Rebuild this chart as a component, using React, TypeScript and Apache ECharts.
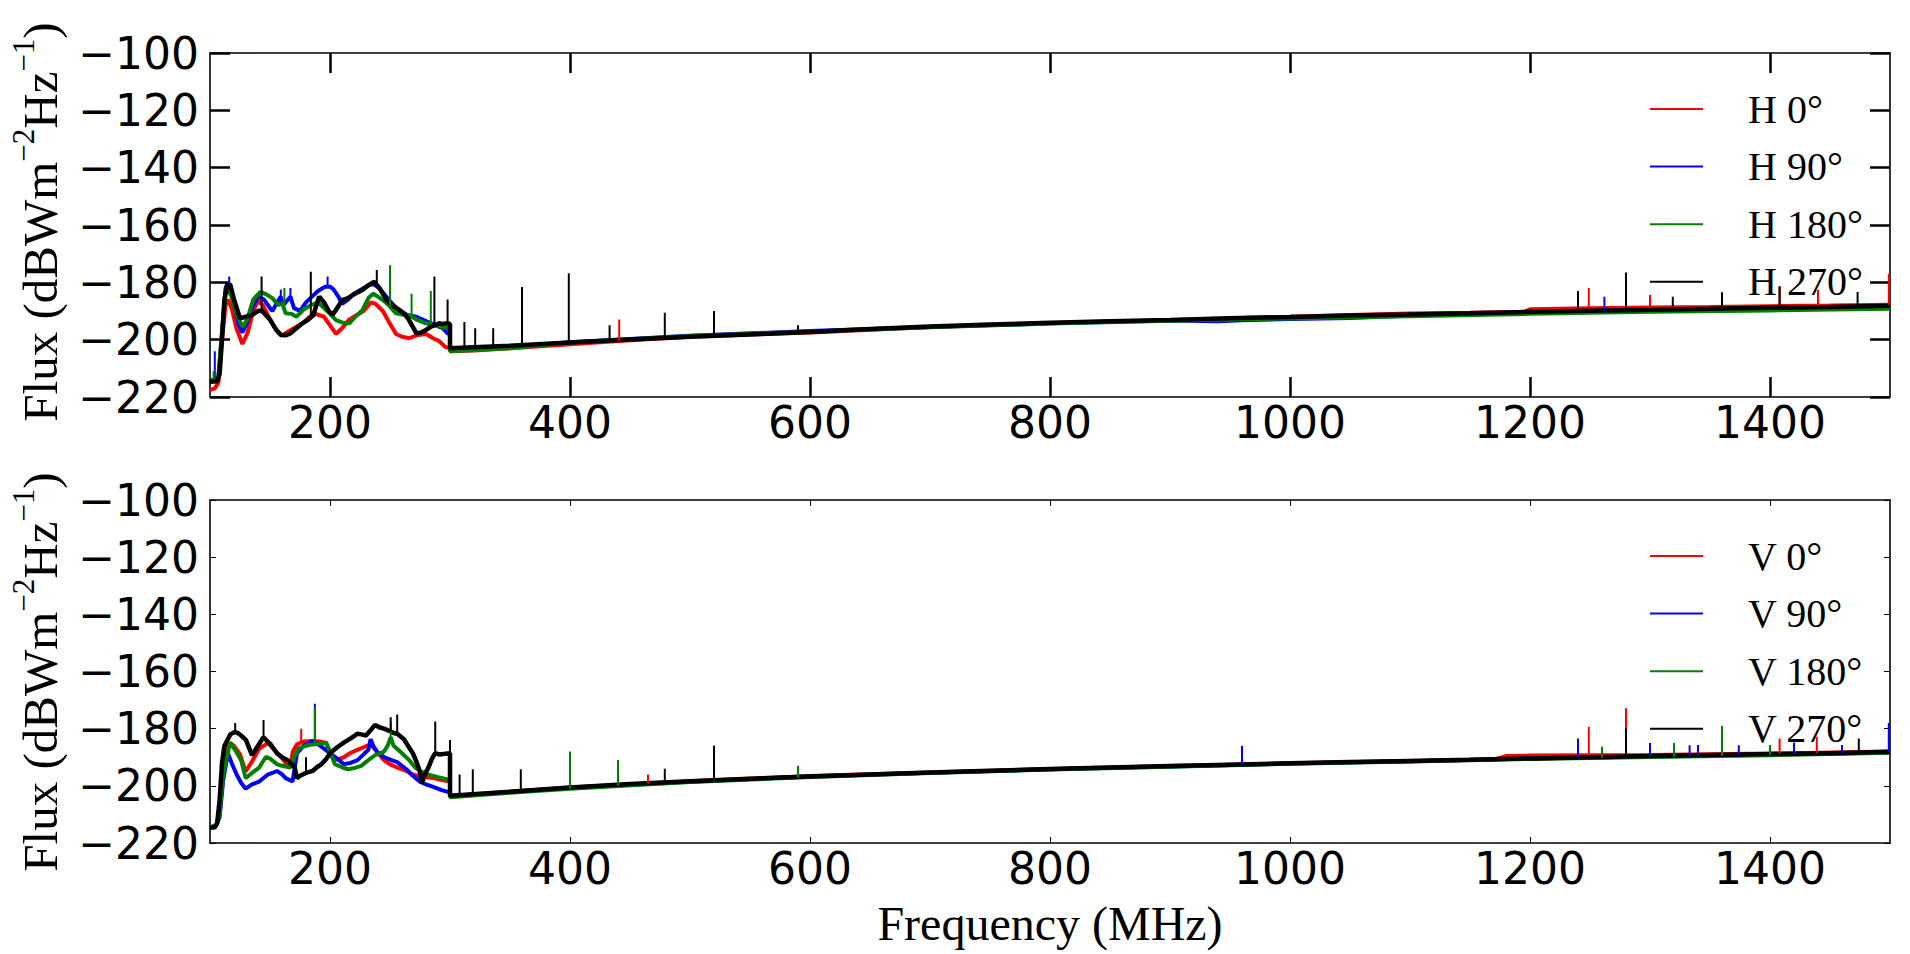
import React, { useEffect, useRef } from "react";
import * as echarts from "echarts";

// ---------- axes / ticks ----------
const X_TICKS = [200, 400, 600, 800, 1000, 1200, 1400];
const X_MIN = 100;
const X_MAX = 1500;
const Y_MIN = -220;
const Y_MAX = -100;
const Y_STEP = 20;

// ---------- legend names ----------
const H_NAMES = ["H 0°", "H 90°", "H 180°", "H 270°"];
const V_NAMES = ["V 0°", "V 90°", "V 180°", "V 270°"];
const COLORS = ["#ff0000", "#0000ff", "#008000", "#000000"];

// ---------- H polarisation, base spectra [MHz, dBW m^-2 Hz^-1] ----------
const H0: number[][] = [
  [100, -217.5], [104, -217], [107, -215], [110, -200], [113, -188], [115, -186], [118, -189], [122, -196],
  [127, -201.5], [131, -198], [136, -190], [140, -186.5], [144, -188], [150, -193], [156, -197], [160, -198.5],
  [166, -197], [172, -195.5], [178, -194], [183, -192], [188, -191], [195, -192], [200, -195], [205, -198],
  [210, -196], [216, -193], [222, -191.5], [228, -190], [234, -187], [238, -187.5], [244, -190], [250, -194.5],
  [255, -198], [260, -199], [266, -199.5], [272, -198.5], [280, -198], [286, -199.5], [291, -200.5], [296, -202.5],
  [300, -203], [300, -204], [320, -203.8], [350, -203], [400, -201.6], [450, -200.2], [500, -199], [550, -198.2],
  [600, -197.5], [650, -196.5], [700, -195.6], [750, -194.9], [800, -194.3], [850, -193.7], [900, -193.2],
  [950, -192.5], [1000, -192], [1050, -191.4], [1100, -190.9], [1150, -190.6], [1195, -190.3], [1200, -189.4],
  [1250, -189], [1300, -188.8], [1350, -188.6], [1400, -188.3], [1450, -188.1], [1500, -187.8],
];
const H90: number[][] = [
  [100, -215], [103, -214], [105, -214], [107, -213], [110, -198], [113, -182], [115, -180.5], [117, -181],
  [120, -188], [124, -195], [127, -197.5], [131, -194], [136, -188], [140, -185], [145, -186], [150, -189],
  [152, -190], [156, -187], [159, -185], [161, -188], [165, -186], [167, -185], [170, -189], [175, -190],
  [180, -187], [185, -185], [190, -183], [196, -181.5], [200, -181.5], [203, -182.5], [207, -185], [210, -187.5],
  [215, -186], [220, -184], [226, -182.5], [232, -181], [236, -180.5], [241, -182], [247, -185], [253, -188],
  [258, -190], [265, -191.5], [272, -192], [280, -193.5], [288, -195], [294, -196], [298, -197.8], [300, -198],
  [300, -203.5], [350, -202.6], [400, -200.9], [500, -198.6], [600, -197], [700, -195.6], [800, -194.3],
  [900, -193.3], [940, -193.6], [960, -193.2], [1000, -192.8], [1050, -192.4], [1100, -191.6], [1150, -191.1],
  [1200, -190.6], [1250, -190.1], [1300, -189.9], [1400, -189.4], [1500, -188.9],
];
const H180: number[][] = [
  [100, -214], [102, -214], [104, -214], [107, -213], [110, -197], [113, -184], [115, -182.5], [118, -185],
  [122, -191], [127, -195.5], [131, -193], [136, -186], [142, -183.3], [146, -184], [152, -185.5], [157, -188],
  [160, -187], [163, -190.8], [168, -191], [172, -192], [178, -189.5], [184, -188], [190, -187], [195, -189],
  [200, -191], [205, -193.2], [210, -194], [216, -194.3], [220, -192.5], [227, -189.7], [232, -185.5],
  [236, -184], [240, -185], [244, -186.2], [249, -188], [251, -189], [255, -190.8], [260, -191.2], [266, -191.5],
  [272, -193], [280, -194.3], [288, -195], [295, -195.8], [300, -196], [300, -204], [350, -203], [400, -201],
  [500, -198.7], [600, -197.2], [700, -195.7], [800, -194.4], [900, -193.4], [1000, -192.6], [1100, -191.8],
  [1200, -191], [1300, -190.3], [1400, -189.8], [1500, -189.2],
];
const H270: number[][] = [
  [100, -214.7], [106, -214.5], [108, -212], [110, -200], [112, -186], [114.5, -180.4], [117, -181], [120, -186],
  [125, -192.6], [130, -192], [135, -191.4], [140, -190], [143, -189.8], [150, -193], [155, -196.5],
  [159, -198.4], [163, -198.5], [167, -197.8], [172, -196], [177, -194.3], [182, -193], [186, -191.5],
  [191, -185], [195, -187], [199, -190], [202, -191.4], [206, -189], [210, -186.2], [215, -185.5], [219, -184.4],
  [223, -183.5], [227, -182.7], [232, -181], [237, -179.8], [242, -182.5], [247, -186.2], [252, -188],
  [258, -189.7], [262, -191], [265, -192.6], [269, -195.5], [272, -197.8], [276, -197.5], [280, -196.6],
  [284, -195.5], [291, -194.3], [294, -194.5], [298, -194.3], [300, -194.5], [300, -203], [350, -202.1],
  [400, -201], [450, -199.9], [500, -199], [560, -198], [600, -197.3], [650, -196.3], [700, -195.4],
  [750, -194.7], [800, -194.1], [850, -193.6], [900, -193.1], [950, -192.5], [1000, -192.1], [1050, -191.6],
  [1100, -191.2], [1150, -190.8], [1200, -190.3], [1250, -189.9], [1300, -189.6], [1350, -189.2],
  [1400, -188.9], [1450, -188.6], [1500, -188.2],
];

// ---------- H narrow-band spikes [MHz, base, peak] ----------
const H0_SPIKES: number[][] = [
  [441, -200.4, -193], [1249, -189, -182], [1300, -188.8, -184.4], [1408, -188.3, -181.3],
  [1440, -188.2, -182.7], [1499, -187.8, -177],
];
const H90_SPIKES: number[][] = [
  [104, -214, -204], [116, -180.5, -178], [159, -187, -182.5], [167, -186, -182], [198, -181.5, -178],
  [1262, -190, -185],
];
const H180_SPIKES: number[][] = [
  [103, -214, -211], [162, -188, -182], [250, -188.5, -174], [268, -192, -184], [284, -194.5, -183],
];
const H270_SPIKES: number[][] = [
  [143, -189.8, -178], [184, -192, -176.3], [239, -180.5, -175.7], [287, -195, -178], [298, -194.3, -186],
  [312, -202.8, -193.8], [321, -202.6, -196], [336, -202.3, -196], [360, -201.9, -181.6], [399, -201, -176.8],
  [433, -200.3, -195], [479, -199.4, -190.6], [520, -198.7, -190], [590, -197.5, -195], [1240, -190, -183],
  [1280, -189.7, -176.6], [1319, -189.4, -185], [1360, -189.2, -183.5], [1408, -188.9, -181.5],
  [1473, -188.5, -183.4],
];

// ---------- V polarisation, base spectra ----------
const V0: number[][] = [
  [100, -214.5], [105, -214], [108, -210], [111, -195], [114, -187], [116.7, -185], [120, -186], [125, -189],
  [129.7, -195], [135, -191.5], [141, -187], [146.5, -185.5], [150, -185], [155, -188], [159.5, -190],
  [163, -192], [166.9, -193.6], [169, -188], [172.5, -185.5], [178, -184.5], [185.5, -184.3], [191, -184.5],
  [196.7, -185], [200, -188], [204, -191], [208, -190.5], [211.5, -190], [217, -188.5], [222.7, -187.4],
  [228, -186.5], [233.8, -185.5], [239, -188], [245, -191], [250, -192.5], [256, -193.6], [263.6, -194.8],
  [269, -196], [274.7, -196.7], [280, -197], [286, -197.3], [293, -198], [300, -198.5], [300, -203.6],
  [350, -202.1], [400, -200.6], [500, -198.4], [600, -196.6], [700, -195.3], [800, -194.1], [900, -193.1],
  [1000, -192.1], [1100, -191.3], [1170, -190.8], [1180, -189.6], [1200, -189.4], [1300, -189.2],
  [1400, -188.7], [1500, -188],
];
const V90: number[][] = [
  [100, -214.5], [105, -214], [108, -211], [111, -198], [114.9, -188.6], [118, -192], [122.3, -196.1],
  [126, -199], [129.7, -201], [135, -199.5], [141, -198.5], [148, -196.1], [152, -195.5], [155.8, -194.8],
  [160, -196], [163, -197.3], [168.8, -198.5], [172.5, -188.6], [178, -186], [185.5, -184.3], [192, -186],
  [200, -188.6], [206, -190.5], [211.5, -192.4], [217, -192], [222.7, -191.1], [228, -189], [232, -187.4],
  [233.8, -183.7], [236, -186], [240, -188.5], [245, -189.9], [250, -190.8], [256, -191.7], [263.6, -194.2],
  [269, -196.5], [274.7, -198.5], [280, -199.5], [286, -200.4], [293, -201.5], [300, -202.3], [300, -203.6],
  [400, -200.7], [500, -198.6], [600, -196.7], [700, -195.4], [800, -194.2], [900, -193.2], [1000, -192.2],
  [1100, -191.4], [1200, -190.4], [1300, -189.7], [1400, -189.1], [1500, -188.3],
];
const V180: number[][] = [
  [100, -214.5], [105, -214], [108, -210], [111, -196], [116.7, -184.9], [121, -187.5], [126, -191.1],
  [129.7, -197.3], [135, -195.5], [141, -193.6], [146.5, -189.9], [150, -190.5], [155.8, -192.4], [160, -193],
  [166.9, -193.6], [170, -190], [174.3, -186.8], [180, -186], [185.5, -185.5], [191, -185.3], [196.7, -184.9],
  [200, -188], [204, -192.4], [210, -193.5], [215, -194.2], [220, -193.8], [226, -193], [232, -191],
  [237.5, -189.3], [245, -188], [248, -186], [250.6, -183], [253, -186], [260, -188.6], [266, -191],
  [271, -193.6], [276, -195], [282, -196.1], [290, -197], [300, -197.9], [300, -204], [350, -202.4],
  [400, -201], [500, -198.7], [600, -196.9], [700, -195.5], [800, -194.3], [900, -193.3], [1000, -192.3],
  [1100, -191.5], [1200, -190.6], [1300, -189.9], [1400, -189.3], [1500, -188.4],
];
const V270: number[][] = [
  [100, -214.7], [104, -214.5], [106, -213], [108, -205], [110, -192], [112, -186], [114.9, -183.7],
  [117, -182], [120.4, -181.2], [123, -181.5], [126, -182.4], [130, -184], [135, -189.3], [140, -186],
  [144.6, -183], [148, -184.5], [152, -186.5], [155.8, -188.6], [160, -190], [165, -191.1], [168, -192.5],
  [170.6, -193.6], [172.4, -197.3], [175, -196.5], [180, -195.5], [185.5, -194.8], [189, -193.5],
  [193, -192.4], [197, -190.5], [200, -188.6], [206, -186.5], [211.5, -184.9], [217, -183.5], [222.7, -181.8],
  [226, -182], [230, -182.4], [234, -180.5], [237.5, -178.7], [241, -179.5], [245, -180], [250.6, -181],
  [253, -181.5], [256, -181.8], [261.7, -183.7], [265, -186], [269, -188.6], [272, -191.5], [274.7, -194.8],
  [276.6, -199.2], [279, -196], [282, -193.6], [285, -190.5], [287.7, -188.6], [291, -189], [296, -188.8],
  [300, -188.6], [300, -203.5], [350, -202.1], [400, -200.6], [450, -199.4], [500, -198.4], [550, -197.5],
  [600, -196.7], [650, -196], [700, -195.3], [750, -194.7], [800, -194.1], [850, -193.6], [900, -193.1],
  [950, -192.6], [1000, -192.1], [1050, -191.7], [1100, -191.3], [1150, -190.9], [1200, -190.4],
  [1250, -190], [1300, -189.6], [1350, -189.2], [1400, -188.9], [1450, -188.6], [1500, -188.1],
];

// ---------- V narrow-band spikes [MHz, base, peak] ----------
const V0_SPIKES: number[][] = [
  [176, -184.5, -180], [465, -199.1, -196], [1249, -189.3, -179.3], [1280, -189.2, -172.9],
  [1408, -188.7, -183.4], [1439, -188.5, -182.8],
];
const V90_SPIKES: number[][] = [
  [187.4, -184.5, -171.3], [960, -192.6, -186], [1240, -190.1, -183.4], [1300, -189.7, -185],
  [1333, -189.5, -185.8], [1340, -189.4, -185.7], [1374, -189.2, -185.8], [1420, -188.9, -184.8],
  [1460, -188.6, -185.7], [1499, -188.3, -178],
];
const V180_SPIKES: number[][] = [
  [187.4, -185.5, -172.5], [250.6, -183, -178], [400, -201, -188], [440, -200.1, -191], [520, -198.5, -186],
  [590, -197.2, -193], [1260, -190.2, -186.3], [1320, -189.8, -185], [1360, -189.6, -179],
  [1400, -189.3, -185.7],
];
const V270_SPIKES: number[][] = [
  [121, -181, -178], [144.6, -183, -177], [180, -195.5, -190], [250.6, -181, -176], [256, -181.8, -175],
  [287.7, -188.6, -177.5], [300, -188.6, -184], [308, -203.3, -196], [319, -203, -194.2],
  [359, -201.9, -194.2], [479, -198.9, -194], [520, -198.1, -186], [1280, -189.8, -179.9],
  [1474, -188.4, -183.4],
];

const H_DATA = [H0, H90, H180, H270];
const V_DATA = [V0, V90, V180, V270];
const H_SPIKES = [H0_SPIKES, H90_SPIKES, H180_SPIKES, H270_SPIKES];
const V_SPIKES = [V0_SPIKES, V90_SPIKES, V180_SPIKES, V270_SPIKES];

const TICK_FONT = "'DejaVu Sans', sans-serif";
const SERIF = "'Liberation Serif', 'Times New Roman', serif";

const minus = (v: number) => String(v).replace("-", "\u2212");

function spikeSegments(sp: number[][]) {
  const out: (number | null)[][] = [];
  sp.forEach(([f, base, peak]) => {
    out.push([f, base], [f, peak], [f, null]);
  });
  return out;
}

function makeAxes(gridIndex: number, tickLen: number, tickWidth: number) {
  const line = { show: true, onZero: false, lineStyle: { color: "#000", width: 1.6 } };
  const tick = { show: true, inside: true, length: tickLen, lineStyle: { color: "#000", width: tickWidth } };
  const xBottom: any = {
    type: "value", gridIndex, min: X_MIN, max: X_MAX, position: "bottom",
    axisLine: line,
    axisTick: { ...tick, customValues: X_TICKS },
    axisLabel: {
      customValues: X_TICKS, color: "#000", fontSize: 44, lineHeight: 44, fontFamily: TICK_FONT, margin: 3,
      formatter: (v: number) => String(v),
    },
    splitLine: { show: false },
  };
  const xTop: any = {
    type: "value", gridIndex, min: X_MIN, max: X_MAX, position: "top",
    axisLine: line,
    axisTick: { ...tick, customValues: X_TICKS },
    axisLabel: { show: false },
    splitLine: { show: false },
  };
  const yLeft: any = {
    type: "value", gridIndex, min: Y_MIN, max: Y_MAX, interval: Y_STEP, position: "left",
    axisLine: line,
    axisTick: tick,
    axisLabel: {
      color: "#000", fontSize: 44, lineHeight: 44, fontFamily: TICK_FONT, margin: 11, formatter: minus,
    },
    splitLine: { show: false },
  };
  const yRight: any = {
    type: "value", gridIndex, min: Y_MIN, max: Y_MAX, interval: Y_STEP, position: "right",
    axisLine: line,
    axisTick: tick,
    axisLabel: { show: false },
    splitLine: { show: false },
  };
  return { x: [xBottom, xTop], y: [yLeft, yRight] };
}

export default function App() {
  const ref = useRef<HTMLDivElement>(null);

  useEffect(() => {
    if (!ref.current) return;
    const chart = echarts.init(ref.current, undefined, { renderer: "svg" });

    const top = makeAxes(0, 20, 2.5);
    const bot = makeAxes(1, 6, 1);
    bot.x[0].name = "Frequency (MHz)";
    bot.x[0].nameLocation = "middle";
    bot.x[0].nameGap = 56;
    bot.x[0].nameTextStyle = { color: "#000", fontSize: 48, lineHeight: 48, fontFamily: SERIF };

    const series: any[] = [];
    const addPanel = (names: string[], data: number[][][], spikes: number[][][], axisIdx: number) => {
      data.forEach((d, i) => {
        series.push({
          name: names[i], type: "line", xAxisIndex: axisIdx, yAxisIndex: axisIdx, data: d,
          symbol: "none", showSymbol: false,
          lineStyle: { color: COLORS[i], width: i === 3 ? 4.5 : 4 }, itemStyle: { color: COLORS[i] },
          z: 2 + i,
        });
      });
      spikes.forEach((sp, i) => {
        series.push({
          name: names[i] + " spikes", type: "line", xAxisIndex: axisIdx, yAxisIndex: axisIdx,
          data: spikeSegments(sp), connectNulls: false,
          symbol: "none", showSymbol: false,
          lineStyle: { color: COLORS[i], width: 2 }, itemStyle: { color: COLORS[i] },
          z: 6 + i,
        });
      });
    };
    addPanel(H_NAMES, H_DATA, H_SPIKES, 0);
    addPanel(V_NAMES, V_DATA, V_SPIKES, 2);

    const legendBase = {
      orient: "vertical",
      left: 1645,
      icon: "rect",
      itemWidth: 53,
      itemHeight: 2,
      itemGap: 17.6,
      selectedMode: false,
      textStyle: {
        color: "#000", fontSize: 40, fontFamily: SERIF, lineHeight: 40, padding: [0, 0, 0, 40],
      },
    };

    const yLabel = "{n|Flux (dBWm}{s|\u22122}{n|Hz}{s|\u22121}{n|)}";
    const rich = {
      n: { fontSize: 49, fontFamily: SERIF, lineHeight: 64, verticalAlign: "middle", fill: "#000" },
      s: { fontSize: 31, fontFamily: SERIF, lineHeight: 30, verticalAlign: "top", fill: "#000" },
    };

    chart.setOption({
      animation: false,
      backgroundColor: "#fff",
      grid: [
        { left: 210, right: 20, top: 53, height: 344 },
        { left: 210, right: 20, top: 500, height: 343 },
      ],
      xAxis: [...top.x, ...bot.x],
      yAxis: [...top.y, ...bot.y],
      legend: [
        { ...legendBase, top: 84, data: H_NAMES },
        { ...legendBase, top: 531, data: V_NAMES },
      ],
      graphic: [
        {
          type: "text", x: 40, y: 222, rotation: Math.PI / 2,
          style: { text: yLabel, rich, align: "center", verticalAlign: "middle", fill: "#000" },
        },
        {
          type: "text", x: 40, y: 672, rotation: Math.PI / 2,
          style: { text: yLabel, rich, align: "center", verticalAlign: "middle", fill: "#000" },
        },
      ],
      series,
    });

    return () => chart.dispose();
  }, []);

  return (
    <div
      ref={ref}
      style={{ position: "fixed", left: 0, top: 0, width: 1910, height: 954, background: "#fff" }}
    />
  );
}
